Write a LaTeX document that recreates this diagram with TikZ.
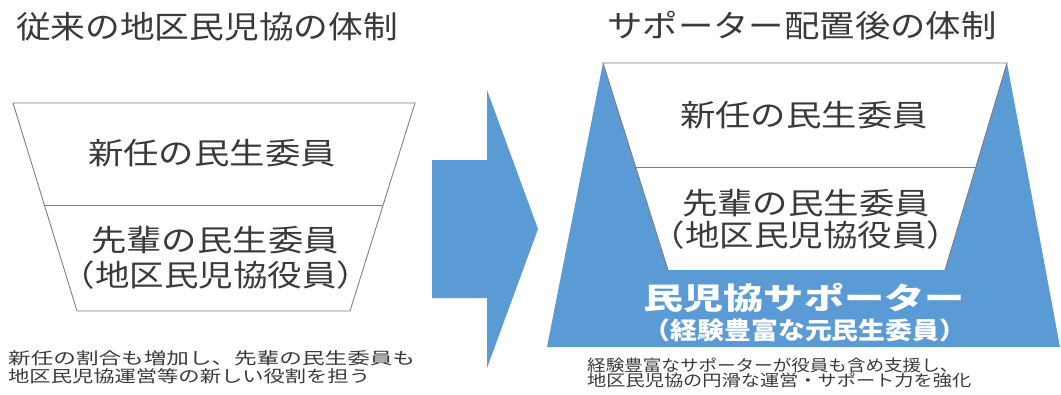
\documentclass[tikz,border=0pt]{standalone}
\usepackage{fontspec}
\usepackage{graphicx}
\setmainfont{Noto Sans CJK JP}
\newfontfamily\jp{Noto Sans CJK JP}
\definecolor{sblue}{HTML}{5B9BD5}
\definecolor{lgray}{HTML}{7F7F7F}
\definecolor{tgray}{HTML}{3A3A3A}
\newcommand\hsx[2]{\scalebox{#1}[1]{#2}}
\tikzset{
  txtbase/.style={inner sep=0pt, text=tgray},
  ttltxt/.style={txtbase, font=\jp\fontsize{31}{36}\selectfont},
  boxtxt/.style={txtbase, font=\jp\fontsize{30}{34}\selectfont},
  captxt/.style={txtbase, anchor=west, font=\jp\fontsize{16.5}{19}\selectfont},
  grayline/.style={draw=lgray, line width=0.9pt},
}
\begin{document}
\begin{tikzpicture}[x=1pt,y=-1pt]
\useasboundingbox[fill=white] (0,0) rectangle (1061,394);

% titles
\node[ttltxt] (t1) at (207,27) {\hsx{1.12}{従来の地区民児協の体制}};
\node[ttltxt] (t2) at (802,26) {\hsx{1.14}{サポーター配置後の体制}};

% left funnel
\draw[grayline, fill=white] (13,103) -- (415,103) -- (350,311) -- (77,311) -- cycle;
\draw[grayline] (44.5,205) -- (383,205);
\node[boxtxt] (l1) at (212,153) {\hsx{1.18}{新任の民生委員}};
\node[boxtxt] (l2) at (215,240) {\hsx{1.18}{先輩の民生委員}};
\node[boxtxt] (l3) at (216,275) {\hsx{1.15}{（地区民児協役員）}};

% arrow
\fill[sblue] (432,160) -- (487,160) -- (487,90) -- (538,229) -- (487,368) -- (487,298) -- (432,298) -- cycle;

% right shape
\fill[sblue] (547,347) -- (603,63) -- (668,270) -- (945,270) -- (1007,63) -- (1060,347) -- cycle;
\draw[grayline] (668,270) -- (603,63) -- (1007,63) -- (945,270);
\draw[grayline] (635.7,167) -- (975.8,167);
\node[boxtxt] (r1) at (804,115) {\hsx{1.18}{新任の民生委員}};
\node[boxtxt] (r2) at (806,203) {\hsx{1.18}{先輩の民生委員}};
\node[boxtxt] (r3) at (806,235) {\hsx{1.15}{（地区民児協役員）}};
\node[txtbase, text=white, font=\jp\bfseries\fontsize{30}{34}\selectfont] (s1) at (804,298) {\hsx{1.34}{民児協サポーター}};
\node[txtbase, text=white, font=\jp\bfseries\fontsize{24}{28}\selectfont] (s2) at (805,330) {\hsx{1.12}{（経験豊富な元民生委員）}};

% captions
\node[captxt] (c1) at (8,358) {\hsx{1.37}{新任の割合も増加し、先輩の民生委員も}};
\node[captxt] (c2) at (8,376) {\hsx{1.29}{地区民児協運営等の新しい役割を担う}};
\node[captxt, font=\jp\fontsize{16}{19}\selectfont] (c3) at (587,365) {\hsx{1.16}{経験豊富なサポーターが役員も含め支援し、}};
\node[captxt, font=\jp\fontsize{16}{19}\selectfont] (c4) at (587,380) {\hsx{1.2}{地区民児協の円滑な運営・サポート力を強化}};
\end{tikzpicture}
\end{document}
